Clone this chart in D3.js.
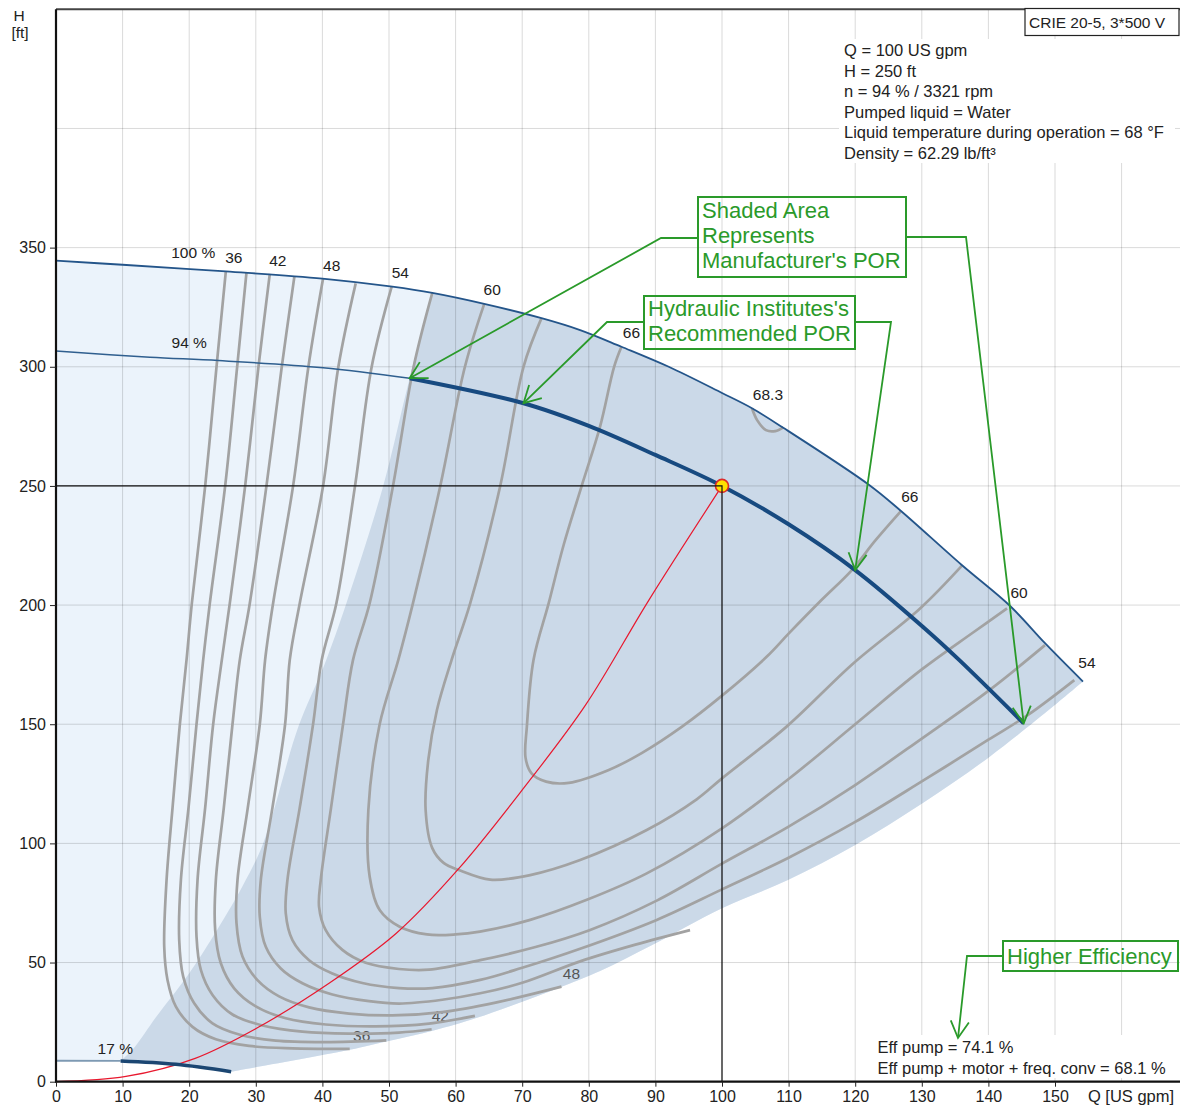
<!DOCTYPE html>
<html>
<head>
<meta charset="utf-8">
<script src="https://cdn.jsdelivr.net/npm/d3@7"></script>
<style>
  body { margin: 0; background: #fff; }
  svg { display: block; font-family: "Liberation Sans", Arial, sans-serif; }
</style>
</head>
<body>
<svg id="chart" width="1180" height="1107"></svg>
<script>
// ---- values: Q [US gpm], H [ft] ----
const xTicks = [0, 10, 20, 30, 40, 50, 60, 70, 80, 90, 100, 110, 120, 130, 140, 150];
const yTicks = [0, 50, 100, 150, 200, 250, 300, 350];
const gridQ = [10, 20, 30, 40, 50, 60, 70, 80, 90, 100, 110, 120, 130, 140, 150, 160];
const gridH = [50, 100, 150, 200, 250, 300, 350, 400];

const curve100 = [[0, 344.5], [10, 342.8], [25.5, 340], [40, 337], [50.5, 333.6], [56.5, 331], [64.3, 326.4],
  [72.9, 320.4], [78.7, 315.4], [84.9, 308.4], [92, 300], [100, 289], [104.5, 282.6], [109.2, 274.4],
  [122.1, 250.4], [126.7, 239.9], [136, 216.8], [143.3, 199.5], [148.5, 184], [154.2, 167.9]];
const curve94 = [[0, 306.6], [14.1, 304], [24.4, 302.6], [40.1, 299.6], [53.1, 295.2], [70.2, 284.7],
  [80, 275.2], [90, 263], [100, 250], [110, 233.9], [120, 214.7], [130.4, 190.3], [135.6, 177], [145.3, 150.4]];
const curve17 = [[0, 8.8], [9.7, 8.7], [18, 7.3], [26.3, 4.2]];
const systemCurve = [[0, 0], [10.5, 2.2], [20.9, 9.8], [30.1, 22.4], [41, 41.3], [51.1, 62.3], [60.5, 89.5],
  [70.3, 123.5], [79.5, 158], [89, 202], [100, 250]];
const dutyPoint = [100, 250];

// boundary of the manufacturer's preferred operating region
const porEdge = [[9.7, 8.7], [11.8, 14.5], [15, 27], [20, 45.5], [23.6, 61], [28, 82], [31.1, 100], [36.4, 149],
  [40.3, 175], [43.6, 200.8], [49.1, 249.7], [53.1, 295.2], [56.5, 331]];
const porBottom = [[26.3, 4.2], [44.1, 13.4], [49.6, 16.9], [56.7, 21.5], [63.2, 26.8], [76.2, 40.2], [81.7, 46.5],
  [89.6, 57.5], [100, 72.8], [109.9, 84.6], [120, 99.3], [130.1, 116.8], [140.2, 136.4], [149.7, 157.4], [154.2, 167.9]];

// iso-efficiency lines [%]
const eff36 = [[25.5, 340], [24.1, 300], [22.4, 250], [20.4, 200.8], [19.6, 177], [18.6, 150], [17.5, 115], [16.6, 84.6],
  [16.25, 56.6], [16.75, 42.6], [18, 31.5], [20.5, 23], [24, 17.8], [29, 15], [35.5, 14], [44.1, 13.8]];
const eff39 = [[28.6, 339.5], [27.2, 300], [25.4, 250], [23.1, 200.8], [22.1, 177], [21.1, 150], [19.9, 115], [18.75, 84.6],
  [18.5, 59.4], [19.1, 44.1], [20.75, 32.9], [23.5, 24.5], [27.5, 19.8], [33, 17.2], [40.5, 16.6], [49.6, 17.3]];
const eff42 = [[32.1, 339], [30.4, 300], [28.4, 250], [26.1, 200.8], [24.9, 177], [23.6, 150], [22.4, 115], [21.25, 84.6],
  [21.1, 60.8], [21.75, 46.9], [23.5, 36.4], [26.5, 28.2], [31, 23.6], [37, 21], [44, 20.2], [51.5, 20.6], [56.4, 22]];
const eff45 = [[35.8, 338], [33.9, 300], [31.6, 250], [29.1, 200.8], [27.6, 177], [26.5, 150], [25.2, 115], [24, 84.6],
  [23.9, 63.7], [24.75, 49.7], [26.75, 39.2], [30, 31.6], [34.5, 26.6], [40.5, 24], [48, 23.2], [56, 24.4], [62.9, 27.6]];
const eff48 = [[40.1, 337], [37.9, 300], [35.6, 250], [32.6, 200.8], [31.4, 177], [30.6, 150], [28.8, 115], [27.25, 84.6],
  [27.1, 66.5], [28, 52.5], [30.25, 42.6], [33.5, 35.8], [38, 31.2], [44, 28.6], [50.5, 27.8], [58, 29.2], [66, 33.2], [75.9, 39.9]];
const eff51 = [[45, 335], [42.4, 300], [40.1, 250], [36.6, 200.8], [35.1, 177], [34.4, 150], [32.5, 115], [30.75, 84.6],
  [30.6, 69.2], [31.5, 56.6], [33.75, 47.5], [37, 41.3], [41.5, 36.6], [47, 33.8], [51.5, 32.8], [58, 34.4], [63.7, 37.1],
  [70, 41.5], [78.7, 50.5], [87, 57.5], [95.2, 63.6]];
const eff54 = [[50.4, 333.6], [47.4, 300], [44.9, 250], [42.1, 200.8], [39.9, 177], [38.6, 150], [36.6, 115], [34.75, 84.6],
  [34.5, 70.6], [35.5, 59.4], [38, 51], [41.5, 45.4], [46, 41.4], [51.5, 39.3], [56.5, 39.3], [63.7, 42.7], [70, 47.8],
  [78.7, 55.8], [90.2, 67.9], [100, 80.7], [110, 94], [120, 109], [130, 126], [140, 143.5], [146, 154], [152.9, 168.5]];
const eff57 = [[56.5, 331], [53.7, 300], [50.6, 250], [47.1, 200.8], [44.6, 177], [43.1, 150], [41.3, 115], [39.75, 84.6],
  [39.5, 73.4], [40.5, 63.6], [43, 55.3], [46.5, 49.9], [51.5, 47.3], [56, 47], [63.7, 51], [72, 56.5], [80.2, 63.7],
  [90.2, 76], [100, 91.5], [110, 107], [120, 124.5], [130, 144], [140, 164], [148.5, 183.2]];
const eff60 = [[64.3, 326.4], [61.4, 300], [57.7, 250], [53.6, 200.8], [51.4, 177], [48.6, 150], [46.9, 114], [47.1, 86],
  [48.6, 72], [51.6, 65], [55.7, 61.8], [60, 61.8], [63.65, 63], [71.2, 67.9], [79.7, 76.3], [88.7, 87.4], [100, 106.3],
  [110, 127], [120, 150], [130, 173], [137.7, 188.5], [142.8, 198.6]];
const eff63 = [[72.9, 320.4], [70.2, 300], [66.7, 250], [62.2, 200.8], [59.4, 177], [57.2, 156], [55.9, 135], [55.5, 114],
  [56.5, 98], [58.2, 91.8], [60.7, 88.6], [65.2, 84.8], [71.2, 86.7], [78.7, 93], [88.7, 105.6], [96.2, 118.5],
  [100, 127.3], [109.7, 149], [119.7, 175.5], [129.7, 198.5], [136.1, 216.8]];
const eff66 = [[84.9, 308.4], [83.8, 300], [81.7, 275], [78.9, 249.7], [76.2, 225], [74, 201], [71.7, 177], [70.7, 149],
  [70.5, 136], [71.4, 129.4], [73.6, 125.9], [77, 125.4], [83, 130.8], [88, 138], [94, 149], [100, 162], [106.7, 178.3],
  [110, 188], [114.9, 202], [119.5, 214.7], [123, 227], [126.8, 239.2]];
const eff683 = [[104.5, 282.6], [105.3, 277.5], [106.6, 273.4], [108, 273], [109.2, 274.6]];
const effLines = [eff36, eff39, eff42, eff45, eff48, eff51, eff54, eff57, eff60, eff63, eff66, eff683];

// labels: text, Q, H
const curveLabels = [['100 %', 20.6, 348], ['94 %', 20, 310.3], ['17 %', 8.9, 14.1]];
const effLabels = [['36', 26.7, 345.7], ['42', 33.3, 344.4], ['48', 41.4, 342.3], ['54', 51.7, 339.4], ['60', 65.5, 332.3],
  ['66', 86.4, 314.2], ['68.3', 106.9, 288.2], ['66', 128.2, 245.4], ['60', 144.6, 205.1], ['54', 154.8, 175.7]];
const effLabelsLow = [['36', 45.9, 19.4], ['42', 57.7, 27.6], ['48', 77.4, 45.6]];

const infoLines = ['Q = 100 US gpm', 'H = 250 ft', 'n = 94 % / 3321 rpm', 'Pumped liquid = Water',
  'Liquid temperature during operation = 68 °F', 'Density = 62.29 lb/ft³'];
const effLines2 = ['Eff pump = 74.1 %', 'Eff pump + motor + freq. conv = 68.1 %'];
const pumpName = 'CRIE 20-5, 3*500 V';

// ---- drawing ----
const W = 1180, Hgt = 1107;
const x = d3.scaleLinear().domain([0, 150]).range([56, 1055]);
const y = d3.scaleLinear().domain([0, 450]).range([1081.7, 9.3]);
const svg = d3.select('#chart');
const green = '#2a9a2a';

const smooth = d3.line().x(d => x(d[0])).y(d => y(d[1])).curve(d3.curveCatmullRom.alpha(0.5));
const straight = d3.line().x(d => x(d[0])).y(d => y(d[1]));
function regionPath(parts) {
  return parts.map((p, i) => { const s = smooth(p); return i ? 'L' + s.slice(1) : s; }).join('') + 'Z';
}
const rev = a => a.slice().reverse();

svg.append('rect').attr('width', W).attr('height', Hgt).attr('fill', '#fff');

// shaded regions
svg.append('path')
  .attr('d', regionPath([curve100, rev(porBottom), rev(curve17)]))
  .attr('fill', '#ebf3fb');
svg.append('path')
  .attr('d', regionPath([porEdge, curve100.filter(d => d[0] >= 56.5), rev(porBottom), rev(curve17.filter(d => d[0] >= 9.7))]))
  .attr('fill', '#cbd9e8');

// grid
const grid = svg.append('g').attr('stroke', '#000').attr('stroke-opacity', 0.15).attr('stroke-width', 1);
grid.selectAll('.gx').data(gridQ).enter().append('line')
  .attr('x1', d => x(d)).attr('x2', d => x(d)).attr('y1', y(450)).attr('y2', y(0));
grid.selectAll('.gy').data(gridH).enter().append('line')
  .attr('x1', x(0)).attr('x2', W).attr('y1', d => y(d)).attr('y2', d => y(d));

// faded low labels sit under the lines
svg.append('g').selectAll('text').data(effLabelsLow).enter().append('text')
  .attr('x', d => x(d[1])).attr('y', d => y(d[2]))
  .attr('text-anchor', 'middle').attr('dominant-baseline', 'central')
  .attr('font-size', 15.5).attr('fill', '#555').text(d => d[0]);

// iso-efficiency lines
svg.append('g').selectAll('path').data(effLines).enter().append('path')
  .attr('d', d => smooth(d))
  .attr('fill', 'none').attr('stroke', '#a2a2a2').attr('stroke-width', 2.7)
  .attr('stroke-linejoin', 'round');

// system curve
svg.append('path').attr('d', smooth(systemCurve))
  .attr('fill', 'none').attr('stroke', '#e8182e').attr('stroke-width', 1.2);

// pump curves
svg.append('path').attr('d', smooth(curve100))
  .attr('fill', 'none').attr('stroke', '#24558a').attr('stroke-width', 1.8);
svg.append('path').attr('d', smooth(curve94.filter(d => d[0] <= 53.1)))
  .attr('fill', 'none').attr('stroke', '#2f5f8f').attr('stroke-width', 1.5);
svg.append('path').attr('d', smooth(curve94.filter(d => d[0] >= 53.1)))
  .attr('fill', 'none').attr('stroke', '#174a80').attr('stroke-width', 4);
svg.append('path').attr('d', smooth(curve17.filter(d => d[0] <= 9.7)))
  .attr('fill', 'none').attr('stroke', '#7e9ab3').attr('stroke-width', 1.8);
svg.append('path').attr('d', smooth(curve17.filter(d => d[0] >= 9.7)))
  .attr('fill', 'none').attr('stroke', '#1b4672').attr('stroke-width', 3.5);

// duty point
svg.append('circle').attr('cx', x(dutyPoint[0])).attr('cy', y(dutyPoint[1])).attr('r', 6.5)
  .attr('fill', '#ffe000').attr('stroke', '#dd2a2a').attr('stroke-width', 1.6);
svg.append('path')
  .attr('d', straight([[0, dutyPoint[1]], dutyPoint, [dutyPoint[0], 0]]))
  .attr('fill', 'none').attr('stroke', '#111').attr('stroke-width', 1.2);

// curve labels
svg.append('g').selectAll('text').data(curveLabels.concat(effLabels)).enter().append('text')
  .attr('x', d => x(d[1])).attr('y', d => y(d[2]))
  .attr('text-anchor', 'middle').attr('dominant-baseline', 'central')
  .attr('font-size', 15.5).attr('fill', '#222').text(d => d[0]);

// frame
svg.append('line').attr('x1', x(0)).attr('x2', W).attr('y1', y(450)).attr('y2', y(450))
  .attr('stroke', '#444').attr('stroke-width', 2);
svg.append('line').attr('x1', x(0)).attr('x2', x(0)).attr('y1', y(450)).attr('y2', y(0) + 1)
  .attr('stroke', '#111').attr('stroke-width', 2.2);
svg.append('line').attr('x1', x(0) - 1).attr('x2', W).attr('y1', y(0)).attr('y2', y(0))
  .attr('stroke', '#111').attr('stroke-width', 2.2);

// axes
const xAxis = svg.append('g').attr('transform', `translate(0,${y(0)})`)
  .call(d3.axisBottom(x).tickValues(xTicks).tickSize(5).tickPadding(4));
const yAxis = svg.append('g').attr('transform', `translate(${x(0)},0)`)
  .call(d3.axisLeft(y).tickValues(yTicks).tickSize(6).tickPadding(4));
[xAxis, yAxis].forEach(a => {
  a.select('.domain').remove();
  a.selectAll('text').attr('font-size', 16).attr('fill', '#222').attr('font-family', null);
  a.selectAll('line').attr('stroke', '#222');
});
svg.append('text').attr('x', 1131).attr('y', 1102).attr('text-anchor', 'middle')
  .attr('font-size', 16.5).attr('fill', '#222').text('Q [US gpm]');
svg.append('text').attr('x', 19).attr('y', 21).attr('text-anchor', 'middle')
  .attr('font-size', 15.5).attr('fill', '#222').text('H');
svg.append('text').attr('x', 20).attr('y', 38).attr('text-anchor', 'middle')
  .attr('font-size', 15.5).attr('fill', '#222').text('[ft]');

// info blocks
svg.append('rect').attr('x', 839).attr('y', 39).attr('width', 336).attr('height', 124).attr('fill', '#fff');
svg.append('g').selectAll('text').data(infoLines).enter().append('text')
  .attr('x', 844).attr('y', (d, i) => 50 + i * 20.5).attr('dominant-baseline', 'central')
  .attr('font-size', 16.5).attr('fill', '#222').text(d => d);
svg.append('rect').attr('x', 1025).attr('y', 8.5).attr('width', 154).attr('height', 27)
  .attr('fill', '#fff').attr('stroke', '#222').attr('stroke-width', 1.2);
svg.append('text').attr('x', 1029).attr('y', 22).attr('dominant-baseline', 'central')
  .attr('font-size', 15.5).attr('fill', '#222').text(pumpName);
svg.append('rect').attr('x', 872).attr('y', 1035).attr('width', 305).attr('height', 43).attr('fill', '#fff');
svg.append('g').selectAll('text').data(effLines2).enter().append('text')
  .attr('x', 877.5).attr('y', (d, i) => 1047 + i * 20.7).attr('dominant-baseline', 'central')
  .attr('font-size', 16.5).attr('fill', '#222').text(d => d);

// call-outs (box in px, leaders end at data points)
const at = q => curve94.find(d => d[0] === q);
const callouts = [
  { box: [698, 197, 208, 80], text: ['Shaded Area', 'Represents', "Manufacturer's POR"], first: 21, step: 25,
    leaders: [[[698, 238], [661, 238], at(53.1)], [[906, 237], [966, 237], at(145.3)]] },
  { box: [644, 296, 211, 53], text: ["Hydraulic Institutes's", 'Recommended POR'], first: 19.5, step: 25.5,
    leaders: [[[644, 322], [607, 322], at(70.2)], [[855, 322], [891, 322], at(120)]] },
  { box: [1003, 941, 175, 30], text: ['Higher Efficiency'], first: 22.5, step: 0,
    leaders: [[[1003, 956], [967, 956], [958, 1038, 'px']]] }
];
const ann = svg.append('g');
callouts.forEach(c => {
  const [bx, by, bw, bh] = c.box;
  ann.append('rect').attr('x', bx).attr('y', by).attr('width', bw).attr('height', bh)
    .attr('fill', 'none').attr('stroke', green).attr('stroke-width', 2);
  c.text.forEach((t, i) => ann.append('text').attr('x', bx + 4).attr('y', by + c.first + i * c.step)
    .attr('font-size', 22).attr('fill', green).text(t));
  c.leaders.forEach(l => {
    const tip = l[2][2] === 'px' ? [l[2][0], l[2][1]] : [x(l[2][0]), y(l[2][1])];
    const pts = [l[0], l[1], tip];
    ann.append('path').attr('d', d3.line()(pts)).attr('fill', 'none')
      .attr('stroke', green).attr('stroke-width', 1.8);
    const ang = Math.atan2(l[1][1] - tip[1], l[1][0] - tip[0]);
    const arm = a => [tip[0] + 19 * Math.cos(ang + a), tip[1] + 19 * Math.sin(ang + a)];
    ann.append('path').attr('d', d3.line()([arm(0.5), tip, arm(-0.5)])).attr('fill', 'none')
      .attr('stroke', green).attr('stroke-width', 1.8);
  });
});
</script>
</body>
</html>
